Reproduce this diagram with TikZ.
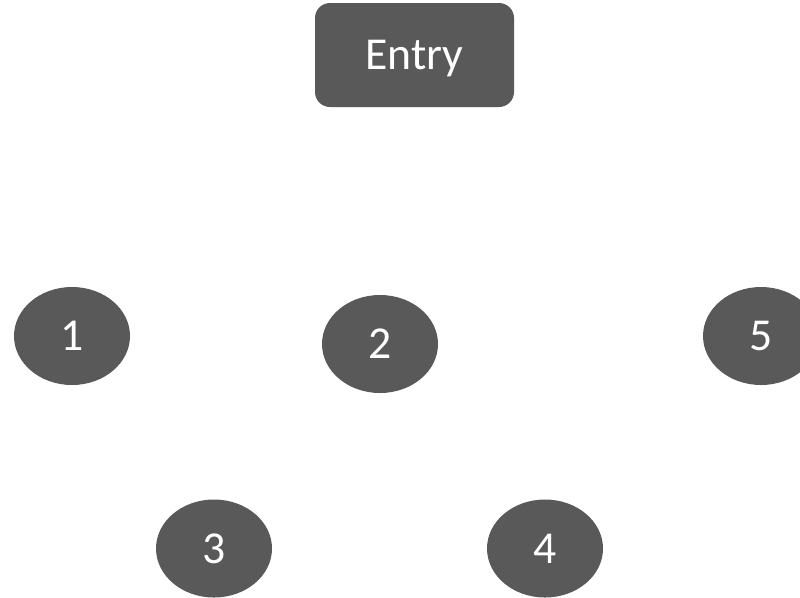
\documentclass[tikz,border=0pt]{standalone}
\usepackage{fontspec}
\setmainfont{Carlito}
\usetikzlibrary{shapes.geometric}
\definecolor{boxgray}{HTML}{595959}
\begin{document}
\begin{tikzpicture}
        \tikzset{every node/.style = {fill=boxgray, text=white, font=\fontsize{26}{30}\selectfont},
                 state/.style = {shape=ellipse, minimum width=2.32cm, minimum height=1.96cm, inner sep=0pt},
                 entrybox/.style = {shape=rectangle, rounded corners=0.3cm, text depth=0pt, minimum width=3.98cm, minimum height=2.08cm}}
        \useasboundingbox (0, 0) rectangle (16, -11.94);

        \node[entrybox] (entry) at (8.29, -1.1) {Entry};

        \node[state] (n1) at (1.44, -6.72) {1};
        \node[state] (n2) at (7.6, -6.88) {2};
        \node[state] (n5) at (15.22, -6.72) {5};

        \node[state] (n3) at (4.28, -10.97) {3};
        \node[state] (n4) at (10.9, -10.97) {4};

    \end{tikzpicture}
\end{document}
